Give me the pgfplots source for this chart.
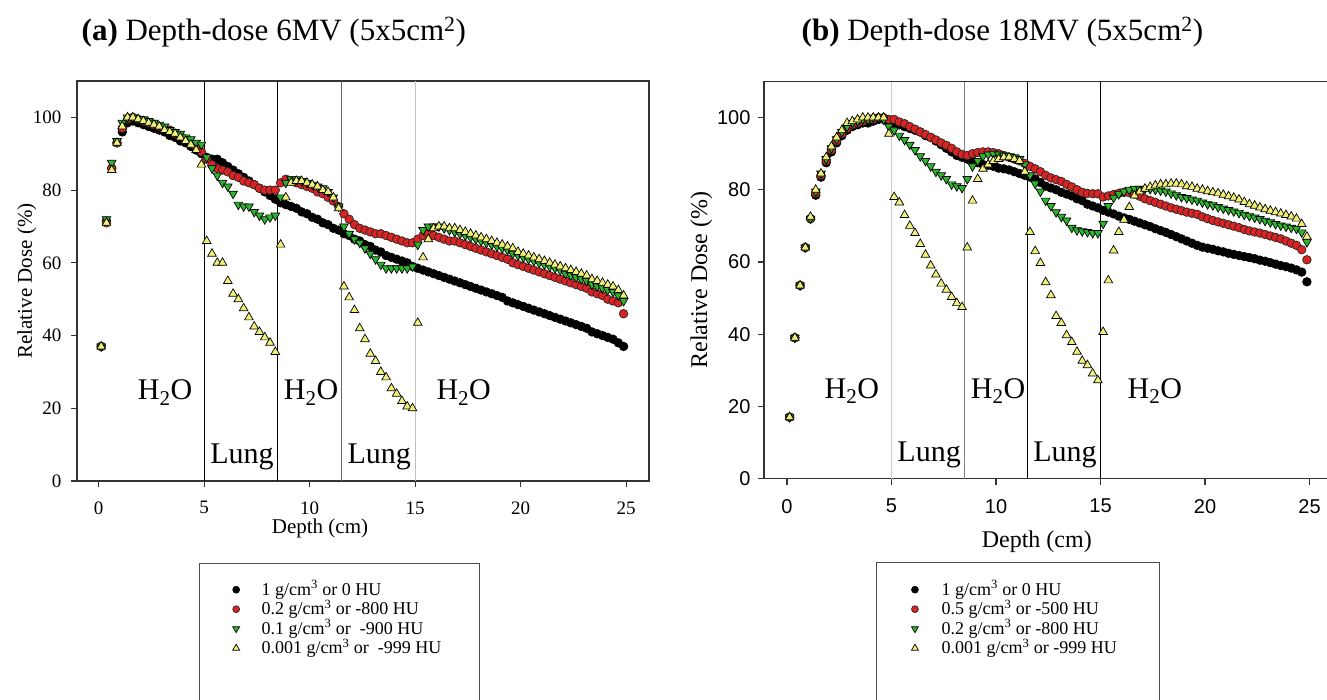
\documentclass[border=0pt]{standalone}
\usepackage{fontspec}
\setmainfont{Liberation Serif}
\newfontfamily\arial{Liberation Sans}
\usepackage{pgfplots}
\usepackage{pgfplotstable}
\pgfplotsset{compat=1.18}

\definecolor{dred}{RGB}{220,35,35}
\definecolor{dgreen}{RGB}{45,180,45}
\definecolor{dyellow}{RGB}{240,240,120}
\newcommand{\fs}[1]{\fontsize{#1}{#1}\selectfont}

% depth (cm), 1 g/cm3, 0.2 g/cm3, 0.1 g/cm3, 0.001 g/cm3
\pgfplotstableread{
x k r g y
0.125 37 37 37 37
0.375 71.5 71 72 71
0.625 86 86 87.5 85.5
0.875 93 93 93.5 93
1.125 96 97 98.5 97.5
1.375 98.5 99.5 100 100
1.625 99 100 100 100
1.875 98.5 99.5 99.5 99.5
2.125 98 99 99.5 99
2.375 97.5 98.5 99 98.5
2.625 97 98 98.5 98
2.875 96.5 97.5 98 97.5
3.125 96 97 97.5 96.5
3.375 95 96.5 96.5 96
3.625 94.5 95.5 96 95.5
3.875 93.5 95 95.5 94.5
4.125 93 94 94.5 93.5
4.375 92 93 94 92.5
4.625 91 92 93 91
4.875 90 90.5 92.5 87
5.125 89 88.5 89 66
5.375 88.5 87 86 62.5
5.625 88.5 86 84 60
5.875 87.5 85.5 82 60
6.125 86.5 85 81 55
6.375 85.5 84 79 51.5
6.625 84.5 83.5 76 50
6.875 83.5 82.5 75.5 47.5
7.125 82.5 82 75.5 45
7.375 81.5 81.5 74 42.5
7.625 80.5 80.5 73 41
7.875 79.5 80 72 39.5
8.125 78.5 80 72.5 38
8.375 77.5 80 73 35.5
8.625 76.5 82 78 65
8.875 76 83 82 78
9.125 75.5 82.5 83 82
9.375 75 82 83 82.5
9.625 74 81.5 82.5 82.5
9.875 73.5 81 82 82
10.125 72.5 80.5 81.5 81.5
10.375 72 79.5 81 81
10.625 71 79 80.5 80
10.875 70.5 78 79.5 79.5
11.125 69.5 77 78 78
11.375 69 75.5 75.5 75
11.625 68 73.5 70 53.5
11.875 67.5 72 68 50.5
12.125 66.5 70.5 66.5 47
12.375 66 69.5 65.5 42
12.625 65 69 64 39
12.875 64.5 68.5 62.5 35
13.125 63.5 68 61 33
13.375 63 68 59.5 30
13.625 62 67.5 58.5 28.5
13.875 61.5 67 58.5 25.5
14.125 61 66.5 58.5 24
14.375 60.5 66 58.5 22
14.625 60 65.5 58.5 20.5
14.875 59 65.5 59 20
15.125 58.5 66.5 65 43.5
15.375 58 67.5 69 61.5
15.625 57.5 68 70 66.5
15.875 57 67.5 70 69.5
16.125 56.5 67 70 70
16.375 56 66.5 69.5 70
16.625 55.5 66 69 69.5
16.875 55 66 68.5 69.5
17.125 54.5 65.5 68 69
17.375 54 65 67.5 68.5
17.625 53.5 64.5 67 68
17.875 53 64 66.5 67.5
18.125 52.5 63.5 66 67
18.375 52 63 65.5 66.5
18.625 51.5 62.5 65 66
18.875 51 62 64.5 65.5
19.125 50.5 61.5 64 65
19.375 49.5 61 63.5 64.5
19.625 49 60 62.5 64
19.875 48.5 59.5 62 63
20.125 48 59 61.5 62.5
20.375 47.5 58.5 61 62
20.625 47 58 60.5 61.5
20.875 46.5 57.5 60 61
21.125 46 57 59.5 60.5
21.375 45.5 56.5 59 60
21.625 45 56 58.5 59.5
21.875 44.5 55.5 58 59
22.125 44 55 57 58.5
22.375 43.5 54.5 56.5 58
22.625 43 54 56 57.5
22.875 42.5 53.5 55.5 57
23.125 42 53 55 56.5
23.375 41 52 54 55.5
23.625 40.5 51.5 53.5 55
23.875 40 51 53 54.5
24.125 39.5 50 52.5 54
24.375 39 49.5 52 53.5
24.625 38 49 51 52.5
24.875 37 46 49.5 51
}\sixmv

% depth (cm), 1 g/cm3, 0.5 g/cm3, 0.2 g/cm3, 0.001 g/cm3
\pgfplotstableread{
x k r g y
0.125 17 17 17 17
0.375 39 39 39 39
0.625 53.5 53.5 53.5 53.5
0.875 64 64 64 64
1.125 72 72 72 72.5
1.375 78.5 79 79.5 80
1.625 83.5 84 84.5 84.5
1.875 87.5 88 88.5 89
2.125 90.5 91 91.5 92
2.375 93 93.5 94 94.5
2.625 95 95.5 96 96.5
2.875 96.5 97 97.5 98.5
3.125 97.5 98 98.5 99
3.375 98 98.5 99 99.5
3.625 98.5 99 99.5 100
3.875 98.5 99.5 99.5 100
4.125 99 99.5 100 100
4.375 99.5 100 100 100
4.625 99.5 100 99.5 100
4.875 99 99.5 97.5 95.5
5.125 98.5 99.5 96.5 78
5.375 98 98.8 95 76.5
5.625 97.5 98.3 93.8 73
5.875 97 97.5 92.5 70
6.125 96.5 96.8 91 68
6.375 96 96 89.3 65
6.625 95 95.3 88 62
6.875 94.5 94.5 86.5 59
7.125 93.5 93.8 85 56.5
7.375 92.5 93 84 54
7.625 91.5 92.3 83 52.3
7.875 90.5 91.5 81.5 50.3
8.125 89.5 90.5 81 48.6
8.375 89 89.8 80.5 47.5
8.625 88.5 89.5 83 64
8.875 88 90 86.5 77
9.125 87.5 90.3 88 83
9.375 87 90.5 89.3 85.8
9.625 86.8 90.5 89.8 87
9.875 86.5 90.3 90 88
10.125 86 90 89.8 88.5
10.375 85.8 89.5 89.5 89
10.625 85.5 89 89.3 89
10.875 85 88.5 89 88.5
11.125 84.5 88 88.5 88
11.375 84 87.3 87 85
11.625 83.5 86.5 84 68.3
11.875 83 85.8 81.7 63
12.125 82 85 79.5 59.7
12.375 81 84 77 54.4
12.625 80.5 83.3 75.5 50.8
12.875 80 82.8 73.8 45
13.125 79.3 82.3 72.5 43.1
13.375 78.8 81.5 71.5 39.7
13.625 78.3 80.8 69.5 37.8
13.875 77.5 80 68.8 35.1
14.125 77 79.3 68.5 32.6
14.375 76 79 68.3 31.4
14.625 75.5 78.9 68 29.1
14.875 75 78.9 68 27.2
15.125 74.3 78 70.6 40.6
15.375 73.8 78.3 75.5 54.9
15.625 73.3 78.7 77.8 63.2
15.875 72.7 79 78.8 68.3
16.125 72.2 79.3 79.5 71.7
16.375 71.8 79.2 80 75.2
16.625 71.3 78.8 80.3 78.4
16.875 70.8 78.2 80.3 79.5
17.125 70.3 77.5 80.3 80.3
17.375 69.8 77 80.2 80.8
17.625 69.2 76.5 80 81.2
17.875 68.7 76 79.8 81.5
18.125 68.2 75.5 79.5 81.5
18.375 67.6 75 79 81.7
18.625 67 74.6 78.5 81.7
18.875 66.4 74.2 78 81.5
19.125 65.8 73.8 77.7 81
19.375 65.2 73.5 77.3 80.8
19.625 64.6 73.2 77 80.3
19.875 64.1 72.5 76.5 80
20.125 63.8 72 76 79.6
20.375 63.5 71.5 75.7 79.3
20.625 63.1 71.1 75.2 79
20.875 62.8 70.7 74.8 78.6
21.125 62.4 70.3 74.4 78.2
21.375 62.1 69.9 74 77.8
21.625 61.8 69.5 73.6 77.3
21.875 61.5 69 73.1 76.6
22.125 61.2 68.6 72.7 76
22.375 60.9 68.3 72.3 75.6
22.625 60.5 68 71.9 75.1
22.875 60.2 67.6 71.4 74.6
23.125 59.8 67.2 71 74.2
23.375 59.4 66.8 70.5 73.8
23.625 59 66.4 70.1 73.4
23.875 58.7 65.8 69.8 73
24.125 58.3 65.2 69.5 72.6
24.375 57.8 64.6 69.2 72
24.625 57.2 63.4 68.2 70.5
24.875 54.5 60.6 65.5 67
}\eighteenmv

\pgfplotsset{
  dd/.style={
    scale only axis,
    ymin=0, ymax=110,
    xtick={0,5,...,25}, ytick={0,20,...,100},
    xtick pos=lower, ytick pos=left,
    tick align=outside, major tick length=6pt,
    axis line style={line width=1.3pt, black!80},
    every tick/.style={line width=1.1pt, black!80},
    clip=false,
    /pgf/number format/assume math mode=true,
    legend cell align=left,
    legend image post style={every mark/.append style={scale=0.8}},
  },
  pk/.style={only marks, mark=*, mark size=4.3pt,
    mark options={fill=black, draw=black, line width=0.7pt}},
  pr/.style={only marks, mark=*, mark size=4.3pt,
    mark options={fill=dred, draw=black!85, line width=0.7pt}},
  pg/.style={only marks, mark=triangle*, mark size=5pt,
    mark options={fill=dgreen, draw=black, line width=0.7pt, rotate=180}},
  py/.style={only marks, mark=triangle*, mark size=5pt,
    mark options={fill=dyellow, draw=black, line width=0.7pt}},
  leg/.style={legend style={draw=none, fill=none, font=\fs{18},
    anchor=north west, inner sep=0pt,
    nodes={inner sep=0.25pt, text height=15pt, text depth=4pt}}},
}
\tikzset{region/.style={anchor=base, font=\fs{30}, inner sep=0pt}}

\begin{document}
\begin{tikzpicture}
\useasboundingbox (0,0) rectangle (1327pt,-700pt);

\node[anchor=base west, inner sep=0pt, font=\fs{31}] at (81.5pt,-41pt)
  {\textbf{(a)} Depth-dose 6MV (5x5cm\textsuperscript{2})};
\node[anchor=base west, inner sep=0pt, font=\fs{31}] at (801.5pt,-41pt)
  {\textbf{(b)} Depth-dose 18MV (5x5cm\textsuperscript{2})};

% (a) 6 MV
\begin{axis}[dd, leg,
  at={(77pt,-481pt)}, anchor=south west,
  width=572pt, height=400pt,
  xmin=-1.02, xmax=26.08,
  ticklabel style={font=\fs{19}},
  xticklabel style={yshift=-11pt},
  yticklabel style={xshift=-6pt},
  xlabel={Depth (cm)}, ylabel={Relative Dose (\%)},
  xlabel style={font=\fs{21}, at={(rel axis cs:0.4248,-0.13)}, anchor=base},
  ylabel style={font=\fs{21}, at={(rel axis cs:-0.0787,0.5)}, anchor=base},
  legend style={at={(rel axis cs:0.2719,-0.2469)}, column sep=21.7pt},
]
\draw[black, line width=1.1pt] (axis cs:5,0) -- (axis cs:5,110);
\draw[black, line width=1.1pt] (axis cs:8.5,0) -- (axis cs:8.5,110);
\draw[black!60, line width=1.1pt] (axis cs:11.5,0) -- (axis cs:11.5,110);
\draw[black!25, line width=1.1pt] (axis cs:15,0) -- (axis cs:15,110);
\addplot[pk] table[x=x, y=k] {\sixmv};
\addplot[pr] table[x=x, y=r] {\sixmv};
\addplot[pg] table[x=x, y=g] {\sixmv};
\addplot[py] table[x=x, y=y] {\sixmv};
\legend{1 g/cm\textsuperscript{3} or 0 HU,
  0.2 g/cm\textsuperscript{3} or -800 HU,
  0.1 g/cm\textsuperscript{3} or\ \ -900 HU,
  0.001 g/cm\textsuperscript{3} or\ \ -999 HU}
\node[region] at (axis cs:3.15,22.3) {H\textsubscript{2}O};
\node[region] at (axis cs:10.07,22.3) {H\textsubscript{2}O};
\node[region] at (axis cs:17.3,22.3) {H\textsubscript{2}O};
\node[region] at (axis cs:6.8,4.9) {Lung};
\node[region] at (axis cs:13.3,4.9) {Lung};
\draw[black!70, line width=1pt] (rel axis cs:0.2133,-0.205) rectangle (rel axis cs:0.7045,-0.6);
\end{axis}

% (b) 18 MV
\begin{axis}[dd, leg,
  at={(764pt,-478.5pt)}, anchor=south west,
  width=566pt, height=397pt,
  xmin=-1.1, xmax=25.98,
  ticklabel style={font=\arial\fs{20}},
  xticklabel style={yshift=-11pt},
  yticklabel style={xshift=-4pt},
  xlabel={Depth (cm)}, ylabel={Relative Dose (\%)},
  xlabel style={font=\fs{24}, at={(rel axis cs:0.482,-0.175)}, anchor=base},
  ylabel style={font=\fs{24}, at={(rel axis cs:-0.1007,0.5)}, anchor=base},
  legend style={at={(rel axis cs:0.2602,-0.255)}, column sep=23pt},
]
\draw[black!20, line width=1.1pt] (axis cs:5,0) -- (axis cs:5,110);
\draw[black!50, line width=1.1pt] (axis cs:8.5,0) -- (axis cs:8.5,110);
\draw[black, line width=1.1pt] (axis cs:11.5,0) -- (axis cs:11.5,110);
\draw[black, line width=1.1pt] (axis cs:15,0) -- (axis cs:15,110);
\addplot[pk] table[x=x, y=k] {\eighteenmv};
\addplot[pr] table[x=x, y=r] {\eighteenmv};
\addplot[pg] table[x=x, y=g] {\eighteenmv};
\addplot[py] table[x=x, y=y] {\eighteenmv};
\legend{1 g/cm\textsuperscript{3} or 0 HU,
  0.5 g/cm\textsuperscript{3} or -500 HU,
  0.2 g/cm\textsuperscript{3} or -800 HU,
  0.001 g/cm\textsuperscript{3} or -999 HU}
\node[region] at (axis cs:3.1,22.2) {H\textsubscript{2}O};
\node[region] at (axis cs:10.1,22.2) {H\textsubscript{2}O};
\node[region] at (axis cs:17.6,22.2) {H\textsubscript{2}O};
\node[region] at (axis cs:6.8,4.6) {Lung};
\node[region] at (axis cs:13.3,4.6) {Lung};
\draw[black!70, line width=1pt] (rel axis cs:0.1996,-0.2128) rectangle (rel axis cs:0.6996,-0.6);
\end{axis}
\end{tikzpicture}
\end{document}
